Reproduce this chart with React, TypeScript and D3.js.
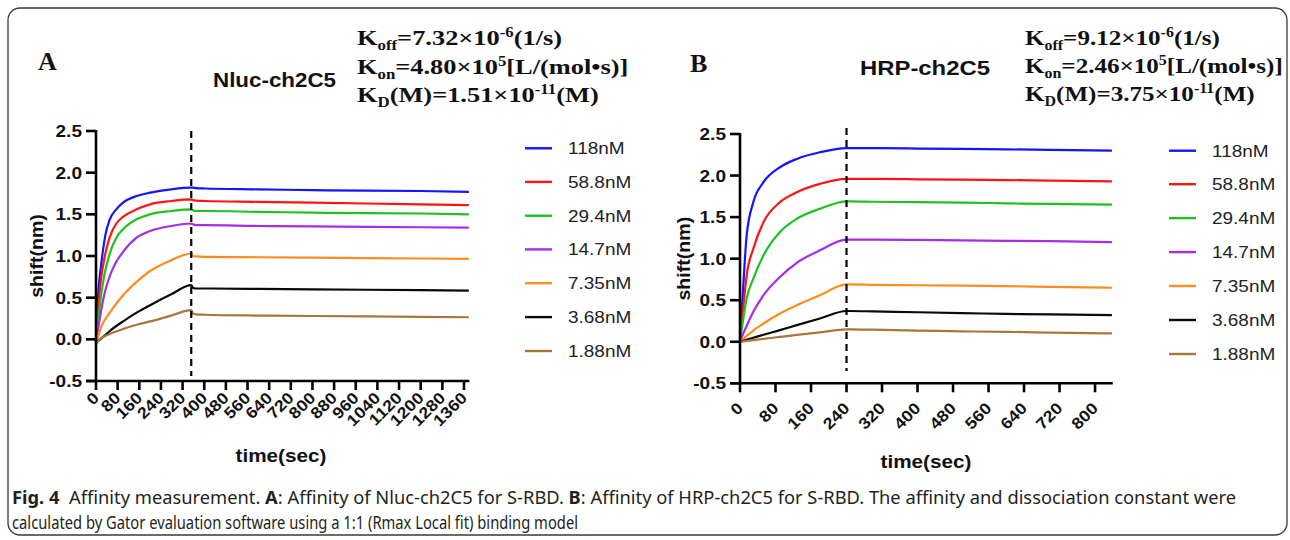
import React from 'react';
import * as d3 from 'd3';

// ---------- data ----------
const concentrations = ['118nM', '58.8nM', '29.4nM', '14.7nM', '7.35nM', '3.68nM', '1.88nM'];
const lineColors = ['#1414ff', '#ff1414', '#1ec21e', '#a62ce6', '#ff8c1e', '#0a0a0a', '#a5773d'];

const yTickValues = [-0.5, 0, 0.5, 1, 1.5, 2, 2.5];
const yTickLabels = ['-0.5', '0.0', '0.5', '1.0', '1.5', '2.0', '2.5'];
const xTicksA = [0, 80, 160, 240, 320, 400, 480, 560, 640, 720, 800, 880, 960, 1040, 1120, 1200, 1280, 1360];
const xTicksB = [0, 80, 160, 240, 320, 400, 480, 560, 640, 720, 800];

// Panel A (Nluc-ch2C5): time (s) and shift (nm)
const timeA = [0, 5, 10, 17, 25, 34, 51, 75, 100, 150, 200, 278, 352, 358, 370, 400, 600, 800, 1000, 1200, 1378];
const a118 = [-0.05, 0.35, 0.62, 0.84, 1.05, 1.24, 1.44, 1.56, 1.64, 1.72, 1.76, 1.8, 1.82, 1.82, 1.815, 1.81, 1.8, 1.79, 1.785, 1.78, 1.77];
const a58 = [-0.05, 0.22, 0.42, 0.68, 0.86, 1.02, 1.23, 1.39, 1.47, 1.56, 1.62, 1.66, 1.68, 1.67, 1.665, 1.66, 1.65, 1.64, 1.63, 1.62, 1.61];
const a29 = [-0.05, 0.12, 0.28, 0.48, 0.66, 0.82, 1.03, 1.22, 1.32, 1.44, 1.5, 1.54, 1.56, 1.55, 1.54, 1.54, 1.53, 1.52, 1.515, 1.51, 1.5];
const a14 = [-0.05, 0.07, 0.17, 0.31, 0.45, 0.58, 0.76, 0.93, 1.05, 1.22, 1.3, 1.36, 1.39, 1.38, 1.37, 1.37, 1.36, 1.355, 1.35, 1.345, 1.34];
const a7 = [-0.05, 0.0, 0.06, 0.13, 0.19, 0.24, 0.32, 0.43, 0.53, 0.69, 0.82, 0.95, 1.03, 1.0, 0.995, 0.99, 0.985, 0.98, 0.975, 0.97, 0.965];
const a3 = [-0.05, -0.03, -0.015, 0.005, 0.025, 0.05, 0.1, 0.16, 0.215, 0.32, 0.41, 0.54, 0.65, 0.62, 0.61, 0.61, 0.605, 0.6, 0.595, 0.59, 0.585];
const a1 = [-0.05, -0.03, -0.01, 0.01, 0.025, 0.04, 0.065, 0.095, 0.125, 0.175, 0.215, 0.285, 0.35, 0.31, 0.3, 0.295, 0.285, 0.28, 0.275, 0.27, 0.265];

// Panel B (HRP-ch2C5)
const timeB = [0, 7.5, 15, 30, 53, 90, 128, 180, 240, 250, 300, 400, 500, 600, 700, 838];
const b118 = [0, 0.68, 1.28, 1.68, 1.92, 2.1, 2.2, 2.28, 2.33, 2.33, 2.33, 2.325, 2.32, 2.315, 2.31, 2.3];
const b58 = [0, 0.42, 0.8, 1.12, 1.44, 1.68, 1.8, 1.9, 1.96, 1.96, 1.96, 1.955, 1.95, 1.945, 1.94, 1.93];
const b29 = [0, 0.28, 0.52, 0.76, 1.04, 1.32, 1.48, 1.6, 1.69, 1.69, 1.685, 1.68, 1.675, 1.665, 1.66, 1.65];
const b14 = [0, 0.1, 0.19, 0.36, 0.56, 0.78, 0.95, 1.1, 1.23, 1.23, 1.23, 1.225, 1.22, 1.215, 1.21, 1.2];
const b7 = [0, 0.035, 0.07, 0.135, 0.22, 0.34, 0.44, 0.56, 0.69, 0.69, 0.685, 0.68, 0.675, 0.67, 0.66, 0.65];
const b3 = [0, 0.012, 0.024, 0.048, 0.085, 0.14, 0.2, 0.28, 0.37, 0.37, 0.365, 0.355, 0.345, 0.335, 0.33, 0.32];
const b1 = [0, 0.005, 0.01, 0.02, 0.035, 0.058, 0.082, 0.112, 0.15, 0.15, 0.145, 0.135, 0.125, 0.12, 0.11, 0.1];

// ---------- layout ----------
const SANS = 'Liberation Sans, Arial, Helvetica, sans-serif';
const SERIF = 'Liberation Serif, Times New Roman, serif';
const SX = 1.12;

type PanelCfg = {
  times: number[];
  series: number[][];
  xTicks: number[];
  xMax: number;
  xRange: [number, number];
  yRange: [number, number];
  dashT: number;
  dashTop: number;
  dashBot: number;
  legendX: number;
  legendY: number[];
  yTitleX: number;
  xTitleX: number;
  xTitleY: number;
  xLabelDy: number;
  xLabelDx: number;
};

const panelA: PanelCfg = {
  times: timeA,
  series: [a118, a58, a29, a14, a7, a3, a1],
  xTicks: xTicksA,
  xMax: 1380,
  xRange: [96, 469.4],
  yRange: [381, 131],
  dashT: 352,
  dashTop: 131,
  dashBot: 376,
  legendX: 525,
  legendY: [148.3, 181.9, 215.7, 249.4, 283.2, 317.1, 351],
  yTitleX: 43,
  xTitleX: 281,
  xTitleY: 462,
  xLabelDy: 18,
  xLabelDx: 4,
};

const panelB: PanelCfg = {
  times: timeB,
  series: [b118, b58, b29, b14, b7, b3, b1],
  xTicks: xTicksB,
  xMax: 840,
  xRange: [740, 1112.8],
  yRange: [383.3, 134],
  dashT: 240,
  dashTop: 128,
  dashBot: 371,
  legendX: 1169,
  legendY: [150.7, 184.2, 218.1, 252.1, 286, 320, 354],
  yTitleX: 690,
  xTitleX: 926,
  xTitleY: 468,
  xLabelDy: 26,
  xLabelDx: 4,
};

function Panel({ cfg }: { cfg: PanelCfg }) {
  const x = d3.scaleLinear().domain([0, cfg.xMax]).range(cfg.xRange);
  const y = d3.scaleLinear().domain([-0.5, 2.5]).range(cfg.yRange);
  const line = d3
    .line<number>()
    .x((_, i) => x(cfg.times[i]))
    .y((v) => y(v))
    .curve(d3.curveMonotoneX);
  const x0 = cfg.xRange[0];
  const yb = cfg.yRange[0];
  const yMid = (cfg.yRange[0] + cfg.yRange[1]) / 2;
  return (
    <g>
      {cfg.series.map((s, i) => (
        <path key={i} d={line(s) || ''} fill="none" stroke={lineColors[i]} strokeWidth={2.2} strokeLinejoin="round" />
      ))}
      <line x1={x(cfg.dashT)} x2={x(cfg.dashT)} y1={cfg.dashTop} y2={cfg.dashBot} stroke="#000" strokeWidth={2.2} strokeDasharray="7,5" />
      <line x1={x0} x2={x0} y1={cfg.yRange[1] - 1} y2={yb + 1.2} stroke="#000" strokeWidth={2.6} />
      <line x1={x0 - 10} x2={cfg.xRange[1]} y1={yb} y2={yb} stroke="#000" strokeWidth={2.6} />
      {yTickValues.map((v, i) => (
        <g key={'yt' + i}>
          <line x1={x0 - 10} x2={x0} y1={y(v)} y2={y(v)} stroke="#000" strokeWidth={2.6} />
          <text
            transform={`translate(${x0 - 14},${y(v)}) scale(${SX},1)`}
            textAnchor="end"
            dy="0.36em"
            fontFamily={SANS}
            fontWeight="bold"
            fontSize={17}
            fill="#111"
          >
            {yTickLabels[i]}
          </text>
        </g>
      ))}
      {cfg.xTicks.map((t) => (
        <g key={'xt' + t}>
          <line x1={x(t)} x2={x(t)} y1={yb} y2={yb + 9} stroke="#000" strokeWidth={2.6} />
          <text
            transform={`translate(${x(t) + cfg.xLabelDx},${yb + cfg.xLabelDy}) rotate(-45) scale(${SX},1)`}
            textAnchor="end"
            fontFamily={SANS}
            fontWeight="bold"
            fontSize={16}
            fill="#111"
          >
            {String(t)}
          </text>
        </g>
      ))}
      <text
        transform={`translate(${cfg.yTitleX},${yMid}) rotate(-90) scale(${SX},1)`}
        textAnchor="middle"
        fontFamily={SANS}
        fontWeight="bold"
        fontSize={17.5}
        fill="#111"
      >
        shift(nm)
      </text>
      <text
        transform={`translate(${cfg.xTitleX},${cfg.xTitleY}) scale(${SX},1)`}
        textAnchor="middle"
        fontFamily={SANS}
        fontWeight="bold"
        fontSize={18.5}
        fill="#111"
      >
        time(sec)
      </text>
      {concentrations.map((c, i) => (
        <g key={'lg' + i}>
          <line x1={cfg.legendX} x2={cfg.legendX + 27} y1={cfg.legendY[i]} y2={cfg.legendY[i]} stroke={lineColors[i]} strokeWidth={2.4} />
          <text
            transform={`translate(${cfg.legendX + 43},${cfg.legendY[i]}) scale(1.15,1)`}
            dy="0.36em"
            fontFamily={SANS}
            fontSize={16.5}
            fill="#222"
          >
            {c}
          </text>
        </g>
      ))}
    </g>
  );
}

function Kinetics({ x, ys, vals, sx }: { x: number; ys: number[]; vals: string[][]; sx: number }) {
  const sub = 14;
  return (
    <g fontFamily={SERIF} fontWeight="bold" fill="#111">
      <text transform={`translate(${x},${ys[0]}) scale(${sx},1)`} fontSize={22}>
        K<tspan fontSize={sub} dy={5}>off</tspan>
        <tspan dy={-5}>={vals[0][0]}×10</tspan>
        <tspan fontSize={sub} dy={-8}>{vals[0][1]}</tspan>
        <tspan dy={8}>(1/s)</tspan>
      </text>
      <text transform={`translate(${x},${ys[1]}) scale(${sx},1)`} fontSize={22}>
        K<tspan fontSize={sub} dy={5}>on</tspan>
        <tspan dy={-5}>={vals[1][0]}×10</tspan>
        <tspan fontSize={sub} dy={-8}>{vals[1][1]}</tspan>
        <tspan dy={8}>[L/(mol•s)]</tspan>
      </text>
      <text transform={`translate(${x},${ys[2]}) scale(${sx},1)`} fontSize={22}>
        K<tspan fontSize={sub} dy={5}>D</tspan>
        <tspan dy={-5}>(M)={vals[2][0]}×10</tspan>
        <tspan fontSize={sub} dy={-8}>{vals[2][1]}</tspan>
        <tspan dy={8}>(M)</tspan>
      </text>
    </g>
  );
}

const kinA = [['7.32', '-6'], ['4.80', '5'], ['1.51', '-11']];
const kinB = [['9.12', '-6'], ['2.46', '5'], ['3.75', '-11']];

const CAP_FONT = 'Noto Sans, Open Sans, sans-serif';

export default function App() {
  return (
    <svg width={1290} height={540} style={{ position: 'absolute', left: 0, top: 0, background: '#fff' }}>
      <rect x={0} y={0} width={1290} height={540} fill="#fff" />
      <rect x={8} y={8} width={1279} height={527} rx={12} ry={12} fill="none" stroke="#3a3a3a" strokeWidth={1.3} />

      <text x={38} y={70} fontFamily={SERIF} fontWeight="bold" fontSize={26} fill="#111">A</text>
      <text x={690} y={72} fontFamily={SERIF} fontWeight="bold" fontSize={26} fill="#111">B</text>
      <text x={213} y={87} fontFamily={SANS} fontWeight="bold" fontSize={21} fill="#111" textLength={123} lengthAdjust="spacingAndGlyphs">Nluc-ch2C5</text>
      <text x={860} y={75} fontFamily={SANS} fontWeight="bold" fontSize={21} fill="#111" textLength={130} lengthAdjust="spacingAndGlyphs">HRP-ch2C5</text>

      <Kinetics x={357} ys={[45, 74, 102]} vals={kinA} sx={1.2} />
      <Kinetics x={1025} ys={[45, 73, 101]} vals={kinB} sx={1.14} />

      <Panel cfg={panelA} />
      <Panel cfg={panelB} />

      <text x={12} y={504} fontFamily={CAP_FONT} fontSize={18} fill="#231f20" textLength={1224} lengthAdjust="spacingAndGlyphs">
        <tspan fontWeight="bold">Fig. 4</tspan>
        <tspan>{'\u00a0\u00a0Affinity measurement. '}</tspan>
        <tspan fontWeight="bold">A</tspan>
        <tspan>: Affinity of Nluc-ch2C5 for S-RBD. </tspan>
        <tspan fontWeight="bold">B</tspan>
        <tspan>: Affinity of HRP-ch2C5 for S-RBD. The affinity and dissociation constant were</tspan>
      </text>
      <text x={12} y={529} fontFamily={CAP_FONT} fontSize={18} fill="#231f20" textLength={566} lengthAdjust="spacingAndGlyphs">
        calculated by Gator evaluation software using a 1:1 (Rmax Local fit) binding model
      </text>
    </svg>
  );
}
